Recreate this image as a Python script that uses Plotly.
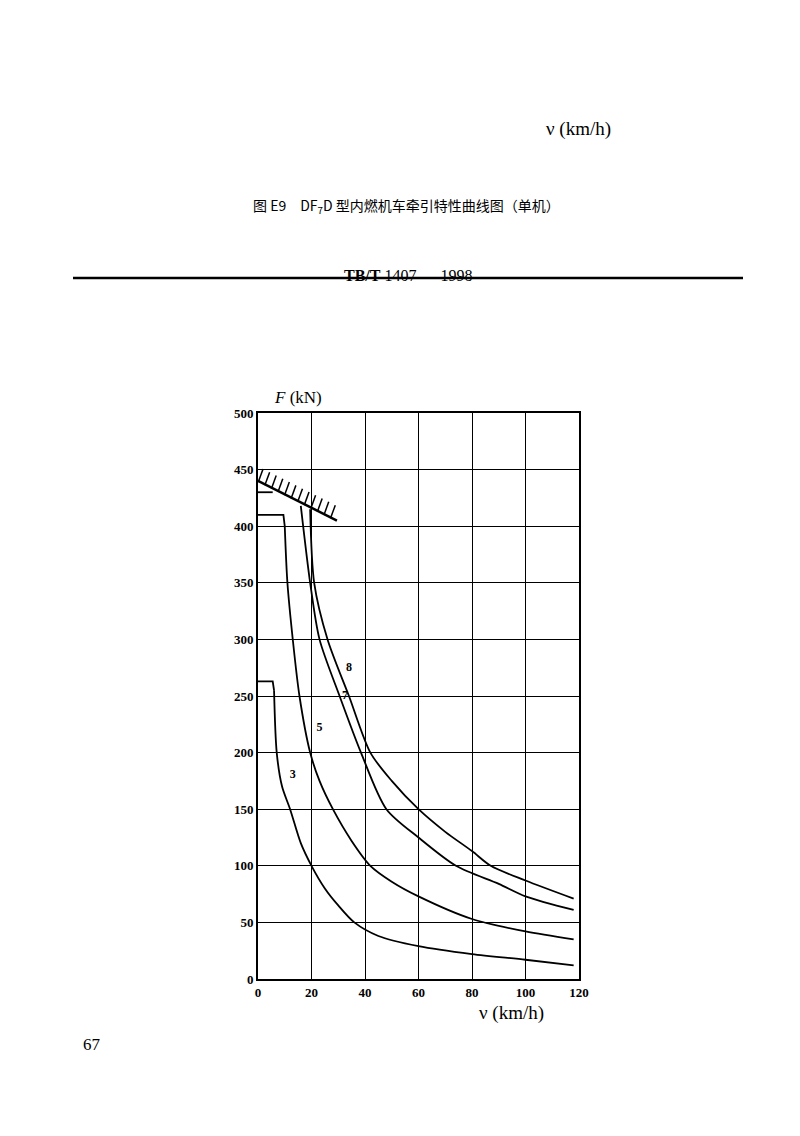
import numpy as np
import plotly.graph_objects as go

# Curve data (v in km/h, F in kN)
# curve 3: flat top, then hyperbolic descent
v3_top = [0, 5.5, 6]
f3_top = [263, 263, 255]
v3 = [6, 7, 9, 12, 16, 20, 25, 30, 36, 45, 60, 80, 100, 118]
f3 = [255, 200, 170, 150, 120, 100, 80, 65, 50, 38, 29, 22, 17, 12]

# curve 5
v5_top = [0, 9.5, 10]
f5_top = [410, 410, 400]
v5 = [10, 11, 13, 15.5, 19.5, 23, 28, 35, 42, 50, 60, 80, 100, 118]
f5 = [400, 350, 300, 250, 200, 175, 150, 122, 100, 86, 73, 53, 42, 35]

# curve 7
v7_top = [0, 5.5]
f7_top = [430, 430]
v7 = [16, 19.5, 23, 30.5, 38.5, 48, 60, 74, 90, 100, 118]
f7 = [418, 350, 300, 250, 200, 150, 125, 100, 84, 73, 61]

# curve 8
v8 = [19.5, 21, 26, 34, 42, 50, 60, 70, 80, 87, 100, 118]
f8 = [415, 350, 300, 250, 200, 175, 150, 130, 113, 100, 87, 71]

# adhesion limit line
v_lim = [0, 29.5]
f_lim = [440, 405]

labels = ['8', '7', '5', '3']
label_v = [34, 32.5, 23, 13]
label_f = [275, 250, 222, 180]

fig = go.Figure()
line = dict(color='black', width=1.8)
for vx, fy in [(v3_top, f3_top), (v5_top, f5_top), (v7_top, f7_top)]:
    fig.add_trace(go.Scatter(x=vx, y=fy, mode='lines', line=line, showlegend=False))
for vx, fy in [(v3, f3), (v5, f5), (v7, f7), (v8, f8)]:
    fig.add_trace(go.Scatter(x=vx, y=fy, mode='lines', line=line, showlegend=False,
                             line_shape='spline', line_smoothing=0.8))

fig.add_trace(go.Scatter(x=v_lim, y=f_lim, mode='lines', line=dict(color='black', width=2.5),
                         showlegend=False))
# hatch ticks along the limit line
hv = np.linspace(1, 28, 12)
hf = np.interp(hv, v_lim, f_lim) + 6
fig.add_trace(go.Scatter(x=hv, y=hf, mode='markers', showlegend=False,
                         marker=dict(symbol='line-ns', size=10, angle=20,
                                     line=dict(color='black', width=1.5))))

fig.add_trace(go.Scatter(x=label_v, y=label_f, mode='text', text=['<b>%s</b>' % s for s in labels],
                         showlegend=False,
                         textfont=dict(family='Liberation Serif', size=12, color='black')))

# plot area in page pixels: x 250-571, y 405-971
M = 30
W, H = 800 - 2 * M, 1136 - 2 * M


def px(x):
    return (x - M) / W


def py(y):
    return 1 - (y - M) / H


tickfont = dict(family='Liberation Serif', size=13, color='black')
fig.update_xaxes(range=[0, 120], dtick=20, domain=[px(250), px(571)],
                 showgrid=True, gridcolor='black', gridwidth=1,
                 showline=True, linecolor='black', linewidth=2, mirror=True,
                 zeroline=False, ticks='', tickfont=tickfont,
                 tickprefix='<b>', ticksuffix='</b>')
fig.update_yaxes(range=[0, 500], dtick=50, domain=[py(971), py(405)],
                 showgrid=True, gridcolor='black', gridwidth=1,
                 showline=True, linecolor='black', linewidth=2, mirror=True,
                 zeroline=False, ticks='', tickfont=tickfont,
                 tickprefix='<b>', ticksuffix='</b>')

serif = dict(family='Liberation Serif', size=19, color='black')
ann = [
    dict(x=605, y=108, text='ν (km/h)', font=serif),
    dict(x=398, y=185, text='图 E9　DF<sub>7</sub>D 型内燃机车牵引特性曲线图（单机）',
         font=dict(family='Noto Sans CJK SC', size=14, color='black')),
    dict(x=400, y=257, text='<b>TB/T</b> 1407 — 1998',
         font=dict(family='Liberation Serif', size=16, color='black')),
    dict(x=264, y=390, text='<i>F</i> (kN)', font=dict(family='Liberation Serif', size=17, color='black')),
    dict(x=538, y=1018, text='ν (km/h)', font=serif),
    dict(x=73, y=1048, text='67', font=dict(family='Liberation Serif', size=17, color='black')),
]
for a in ann:
    fig.add_annotation(x=px(a['x']), y=py(a['y']), xref='paper', yref='paper',
                       text=a['text'], font=a['font'], showarrow=False)

fig.add_shape(type='line', xref='paper', yref='paper', x0=px(65), x1=px(735),
              y0=py(270), y1=py(270), line=dict(color='black', width=2.5))

fig.update_layout(width=800, height=1136, margin=dict(l=M, r=M, t=M, b=M, autoexpand=False),
                  plot_bgcolor='white', paper_bgcolor='white')
fig.write_html("out.html")
